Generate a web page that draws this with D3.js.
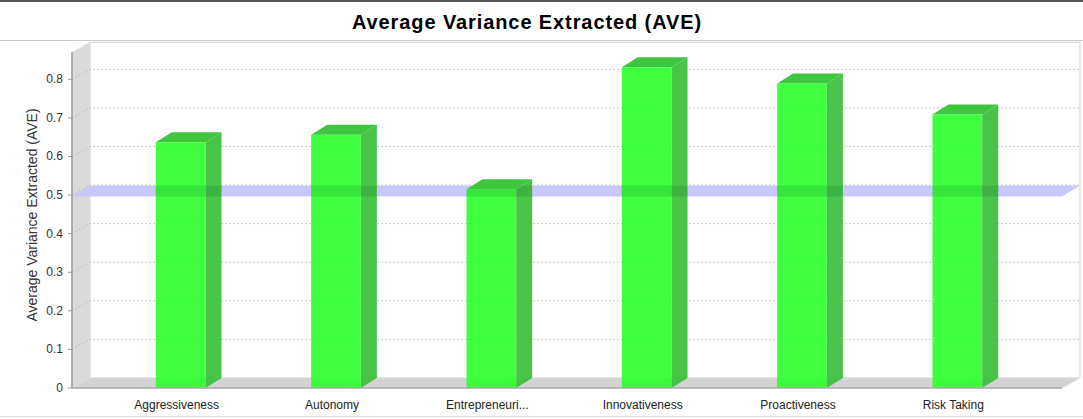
<!DOCTYPE html>
<html><head><meta charset="utf-8">
<script src="https://cdn.jsdelivr.net/npm/d3@7"></script>
<style>body{margin:0;background:#fff;}svg{display:block;font-family:"Liberation Sans",Arial,sans-serif;}</style>
</head><body>
<svg id="chart" width="1083" height="419"></svg>
<script>
const categories = ["Aggressiveness","Autonomy","Entrepreneuri...","Innovativeness","Proactiveness","Risk Taking"];
const aveValues = [0.637, 0.656, 0.515, 0.831, 0.789, 0.709];
const yTicks = [0, 0.1, 0.2, 0.3, 0.4, 0.5, 0.6, 0.7, 0.8];
const threshold = 0.5;
const yMax = 0.87;
const titleText = "Average Variance Extracted (AVE)";
const yTitle = "Average Variance Extracted (AVE)";

const svg = d3.select("#chart");
const W = 1083;
const left = 72, right = 1062, dX = 18, dY = -10;
const y = d3.scaleLinear().domain([0, 0.8]).range([388, 79.3]);
const x = d3.scaleBand().domain(categories).range([103, 1035]).paddingInner(0.68).paddingOuter(0.34);
const bw = x.bandwidth();
const bdx = 16, bdy = -10;
const y0 = y(0), yTop = y(yMax);
const data = categories.map((c,i)=>({c, v: aveValues[i]}));

// frame lines
svg.append("line").attr("x1",0).attr("x2",W).attr("y1",1).attr("y2",1).attr("stroke","#555").attr("stroke-width",2);
svg.append("line").attr("x1",0).attr("x2",W).attr("y1",40.5).attr("y2",40.5).attr("stroke","#ccc");
svg.append("line").attr("x1",0).attr("x2",W).attr("y1",416.5).attr("y2",416.5).attr("stroke","#ddd");

// title
svg.append("text").attr("x",527).attr("y",29).attr("text-anchor","middle")
  .attr("font-size",20).attr("font-weight","bold").attr("letter-spacing","0.9px").attr("fill","#000").text(titleText);

const poly = pts => pts.map(p => p.join(",")).join(" ");
const barShapes = d => {
  const x0 = x(d.c), top = y(d.v);
  return {
    side: poly([[x0+bw,y0],[x0+bw+bdx,y0+bdy],[x0+bw+bdx,top+bdy],[x0+bw,top]]),
    top: poly([[x0,top],[x0+bdx,top+bdy],[x0+bw+bdx,top+bdy],[x0+bw,top]]),
    front: poly([[x0,top],[x0+bw,top],[x0+bw,y0],[x0,y0]])
  };
};

// back wall
svg.append("rect").attr("x",left+dX).attr("y",yTop+dY).attr("width",right-left).attr("height",y0-yTop)
  .attr("fill","#fff").attr("stroke","#d0d0d0");
// left wall
svg.append("polygon").attr("points",poly([[left,y0],[left+dX,y0+dY],[left+dX,yTop+dY],[left,yTop]]))
  .attr("fill","#dadada").attr("stroke","#e4e4e4");
// floor
svg.append("polygon").attr("points",poly([[left,y0],[right,y0],[right+dX,y0+dY],[left+dX,y0+dY]]))
  .attr("fill","#d2d2d2").attr("stroke","#e0e0e0");

// gridlines
yTicks.filter(t => t > 0).forEach(t => {
  const yy = y(t);
  svg.append("polyline").attr("points",poly([[left,yy],[left+dX,yy+dY],[right+dX,yy+dY]]))
    .attr("fill","none").attr("stroke","#b8b8b8").attr("stroke-dasharray","1.5,2.5");
});

// threshold plane
const yt = y(threshold);
const bandPts = poly([[left,yt+1.5],[right,yt+1.5],[right+dX,yt+dY+0.5],[left+dX,yt+dY+0.5]]);
svg.append("polygon").attr("points",bandPts).attr("fill","#c8c8ff");

// bars
const bars = svg.append("g").selectAll("g").data(data).join("g");
bars.each(function(d){
  const g = d3.select(this), s = barShapes(d);
  g.append("polygon").attr("points",s.side).attr("fill","#3dc03d").attr("fill-opacity",0.94);
  g.append("polygon").attr("points",s.top).attr("fill","#3ec63e");
  g.append("polygon").attr("points",s.front).attr("fill","#2bff2b").attr("fill-opacity",0.9);
});

// darken the plane where it crosses the bars
const clip = svg.append("clipPath").attr("id","barclip");
data.forEach(d => {
  const s = barShapes(d);
  clip.append("polygon").attr("points",s.side);
  clip.append("polygon").attr("points",s.front);
});
svg.append("polygon").attr("points",bandPts).attr("clip-path","url(#barclip)")
  .attr("fill","#003000").attr("fill-opacity",0.1);

// axis lines
svg.append("line").attr("x1",left).attr("x2",left).attr("y1",yTop).attr("y2",y0).attr("stroke","#999").attr("stroke-width",1.5);
svg.append("line").attr("x1",left).attr("x2",right).attr("y1",y0).attr("y2",y0).attr("stroke","#aaa").attr("stroke-width",1.5);

// y ticks
const yAxis = svg.append("g");
yTicks.forEach(t => {
  yAxis.append("line").attr("x1",left-4).attr("x2",left).attr("y1",y(t)).attr("y2",y(t)).attr("stroke","#999");
  yAxis.append("text").attr("x",left-9).attr("y",y(t)+4).attr("text-anchor","end")
    .attr("font-size",12).attr("fill","#333").text(t === 0 ? "0" : d3.format(".1f")(t));
});

// y title
svg.append("text").attr("transform","translate(37,215) rotate(-90)").attr("text-anchor","middle")
  .attr("font-size",14).attr("fill","#333").text(yTitle);

// x labels
categories.forEach(c => {
  svg.append("text").attr("x",x(c)+bw/2-4).attr("y",409).attr("text-anchor","middle")
    .attr("font-size",12).attr("fill","#222").text(c);
});
</script>
</body></html>
